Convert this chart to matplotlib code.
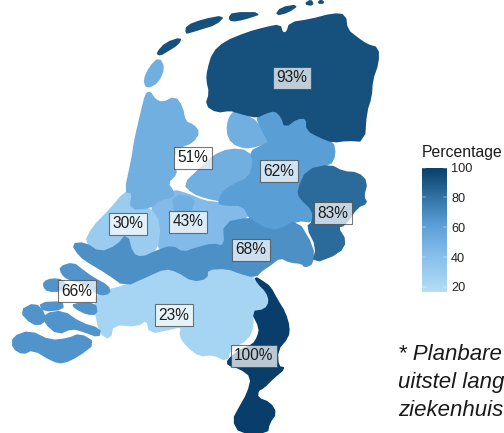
"""Choropleth of Dutch regions with percentage labels, colour legend and footnote."""
import matplotlib
matplotlib.use("Agg")  # headless
import matplotlib.pyplot as plt
import matplotlib.patches as mpatches
from matplotlib.cm import ScalarMappable
from matplotlib.colors import LinearSegmentedColormap, Normalize

plt.rcParams["font.family"] = ["Liberation Sans", "DejaVu Sans"]

# Region outlines (x, y in image pixels)
NOORD = [[(208, 70), (213, 53), (225, 42), (247, 33), (265, 28), (280, 25), (282, 33), (287, 33), (290, 23),
          (310, 20), (333, 14), (345, 15), (347, 30), (357, 38), (367, 45), (378, 48), (378, 63), (372, 80),
          (371, 97), (366, 112), (364, 141), (347, 140), (333, 142), (320, 137), (307, 130), (307, 118),
          (297, 118), (285, 127), (282, 117), (275, 110), (265, 113), (257, 117), (247, 115), (237, 112),
          (230, 110), (217, 112), (206, 105), (210, 93), (207, 80)],
         [(157, 53), (166, 43), (181, 38), (178, 44), (167, 51), (160, 55)],
         [(186, 33), (187, 26), (203, 20), (224, 16), (216, 24), (200, 29), (190, 32)],
         [(229, 18), (233, 13), (262, 13), (244, 19), (232, 21)],
         [(276, 15), (281, 8), (298, 5), (288, 12)],
         [(305, 4), (311, 0), (313, 5)],
         [(318, 3), (321, 0), (324, 3)]]
NOORDWEST = [[(146, 94), (150, 92), (155, 100), (163, 103), (175, 97), (182, 107), (185, 122), (193, 125),
              (199, 132), (193, 142), (180, 147), (175, 150), (173, 167), (177, 173), (167, 183), (173, 191),
              (173, 197), (160, 199), (150, 208), (130, 209), (133, 192), (125, 192), (132, 160), (135, 140),
              (142, 110)],
             [(159, 58), (164, 68), (158, 82), (147, 88), (144, 80), (150, 67)],
             [(235, 111), (247, 116), (257, 122), (264, 135), (268, 142), (257, 146), (245, 148), (232, 143),
              (227, 132), (229, 118)],
             [(184, 184), (200, 169), (213, 156), (230, 149), (248, 151), (253, 163), (248, 178), (233, 184),
              (224, 191), (223, 201), (207, 198), (193, 193)],
             [(173, 195), (195, 198), (190, 213), (175, 214)]]
OOST = [[(257, 117), (265, 113), (275, 110), (282, 117), (285, 127), (297, 118), (307, 118), (307, 130),
         (320, 137), (333, 142), (335, 155), (330, 165), (307, 170), (298, 190), (300, 198), (313, 210),
         (313, 222), (297, 220), (280, 230), (268, 230), (253, 222), (250, 218), (243, 205), (225, 205),
         (218, 203), (223, 192), (233, 185), (249, 178), (254, 163), (250, 152), (262, 146), (269, 142),
         (265, 135), (259, 123)]]
TWENTE = [[(307, 170), (330, 165), (343, 172), (358, 173), (367, 182), (363, 197), (367, 203), (357, 207),
           (345, 225), (337, 227), (346, 241), (339, 253), (313, 263), (317, 247), (307, 227), (313, 222),
           (313, 210), (300, 198), (298, 190)]]
MIDDEN = [[(72, 244), (85, 243), (100, 253), (117, 246), (127, 234), (132, 254), (142, 258), (157, 251),
           (172, 246), (183, 253), (197, 248), (213, 244), (225, 247), (224, 223), (250, 218), (253, 222),
           (268, 230), (280, 230), (297, 220), (313, 247), (313, 263), (305, 267), (302, 263), (290, 262),
           (280, 257), (270, 265), (262, 270), (255, 277), (240, 273), (227, 268), (207, 269), (207, 278),
           (193, 281), (177, 271), (165, 268), (147, 276), (125, 286), (107, 273), (90, 263), (80, 256)]]
ZEELAND = [[(44, 282), (52, 279), (62, 280), (66, 285), (60, 291), (48, 291), (44, 287)],
           [(60, 267), (73, 263), (82, 270), (93, 278), (108, 286), (110, 293), (100, 295), (92, 289),
            (82, 283), (68, 279), (62, 274)],
           [(73, 304), (95, 303), (97, 314), (87, 314), (75, 308)],
           [(40, 303), (62, 302), (63, 309), (43, 311)],
           [(20, 311), (35, 303), (45, 314), (43, 324), (32, 324)],
           [(45, 314), (63, 311), (80, 323), (100, 329), (99, 337), (83, 331), (72, 328), (58, 334), (45, 323)],
           [(13, 337), (30, 331), (50, 341), (68, 339), (80, 334), (95, 343), (78, 356), (63, 363), (53, 361),
            (33, 349), (23, 354), (13, 348)]]
UTRECHT = [[(150, 208), (160, 197), (173, 190), (190, 195), (203, 201), (218, 203), (243, 205), (250, 218),
            (225, 223), (227, 248), (213, 244), (197, 248), (183, 253), (172, 246), (157, 251), (160, 223)]]
ZUIDWEST = [[(125, 192), (133, 192), (130, 208), (138, 207), (150, 208), (160, 223), (157, 251), (142, 258),
             (132, 254), (127, 234), (117, 246), (100, 253), (85, 243), (93, 227), (110, 210)]]
BRABANT = [[(147, 276), (165, 268), (177, 271), (193, 281), (207, 278), (207, 269), (227, 268), (240, 273),
            (255, 278), (267, 293), (270, 309), (252, 311), (253, 326), (248, 339), (230, 349), (227, 361),
            (213, 354), (200, 356), (187, 346), (180, 336), (182, 326), (170, 329), (150, 333), (147, 319),
            (137, 326), (113, 324), (110, 339), (100, 333), (95, 309), (97, 293), (125, 286)]]
LIMBURG = [[(255, 277), (263, 282), (270, 287), (277, 300), (285, 313), (289, 327), (288, 337), (277, 350),
            (278, 367), (285, 368), (273, 378), (263, 388), (258, 390), (257, 398), (270, 403), (276, 413),
            (269, 423), (267, 433), (240, 433), (233, 420), (240, 407), (248, 393), (252, 377), (240, 368),
            (228, 365), (228, 360), (240, 350), (253, 345), (258, 337), (260, 328), (252, 312), (265, 310),
            (270, 302), (267, 292), (258, 283)]]

REGIONS = [UTRECHT, ZUIDWEST, BRABANT, NOORDWEST, OOST, MIDDEN, ZEELAND, TWENTE, NOORD, LIMBURG]
REGION_VALUES = [43, 30, 23, 51, 62, 68, 66, 83, 93, 100]

# Percentage labels
LABEL_VALUES = [93, 51, 62, 83, 43, 30, 68, 66, 23, 100]
LABEL_X = [292, 193, 279, 333, 188, 128, 251, 77, 174, 254]
LABEL_Y = [78, 158, 171, 213, 222, 224, 250, 291, 315, 356]

# Legend
LEGEND_TICKS = [20, 40, 60, 80, 100]
LEGEND_MIN = 16.6
LEGEND_MAX = 100
RAMP_VALUES = [16.6, 23, 43, 62, 83, 100]
RAMP_COLOURS = ["#b4def6", "#a6d5f3", "#82bbe9", "#5a9ed6", "#2b6b9b", "#083e69"]

FOOTNOTE = ["* Planbare", "uitstel lang", "ziekenhuis"]
FOOTNOTE_Y = [360, 388, 416]

W, H = 504, 433


def round_ring(ring):
    """One pass of corner cutting so the traced outlines lose their hard kinks."""
    out = []
    for i, (x0, y0) in enumerate(ring):
        x1, y1 = ring[(i + 1) % len(ring)]
        out.append((0.75 * x0 + 0.25 * x1, 0.75 * y0 + 0.25 * y1))
        out.append((0.25 * x0 + 0.75 * x1, 0.25 * y0 + 0.75 * y1))
    return out


norm = Normalize(vmin=LEGEND_MIN, vmax=LEGEND_MAX)
stops = [(norm(v), c) for v, c in zip(RAMP_VALUES, RAMP_COLOURS)]
cmap = LinearSegmentedColormap.from_list("blues_nl", stops)

fig = plt.figure(figsize=(W / 100, H / 100), dpi=100)
fig.patch.set_facecolor("white")
ax = fig.add_axes([0, 0, 1, 1])
ax.set_xlim(0, W)
ax.set_ylim(H, 0)
ax.axis("off")

# Wide edge in the region's own colour closes the seams left by corner cutting
for rings, value in zip(REGIONS, REGION_VALUES):
    colour = cmap(norm(value))
    for ring in rings:
        ax.add_patch(mpatches.Polygon(round_ring(ring), closed=True, facecolor=colour,
                                      edgecolor=colour, linewidth=1.3, joinstyle="round"))

for value, x, y in zip(LABEL_VALUES, LABEL_X, LABEL_Y):
    ax.text(x, y, f"{value}%", ha="center", va="center", fontsize=11.2, color="#1c1c1c",
            bbox=dict(boxstyle="square,pad=0.22", facecolor="white", alpha=0.72,
                      edgecolor="#444444", linewidth=0.8))

# Colour legend
cax = fig.add_axes([422 / W, 1 - 292 / H, 25 / W, 124.5 / H])
cb = fig.colorbar(ScalarMappable(norm=norm, cmap=cmap), cax=cax, orientation="vertical")
cb.outline.set_visible(False)
cb.set_ticks(LEGEND_TICKS)
cb.ax.tick_params(labelsize=9.2, length=3, width=0.3, color="white", pad=3,
                  direction="in", labelcolor="#222222", left=True, right=True)
fig.text(422 / W, 1 - 153 / H, "Percentage", ha="left", va="center", fontsize=11.3, color="#1a1a1a")

for line, y in zip(FOOTNOTE, FOOTNOTE_Y):
    ax.text(398, y, line, ha="left", va="baseline", fontsize=16, style="italic", color="#1a1a1a",
            clip_on=True)

fig.savefig("out.png", dpi=100, facecolor=fig.get_facecolor())
plt.close(fig)
